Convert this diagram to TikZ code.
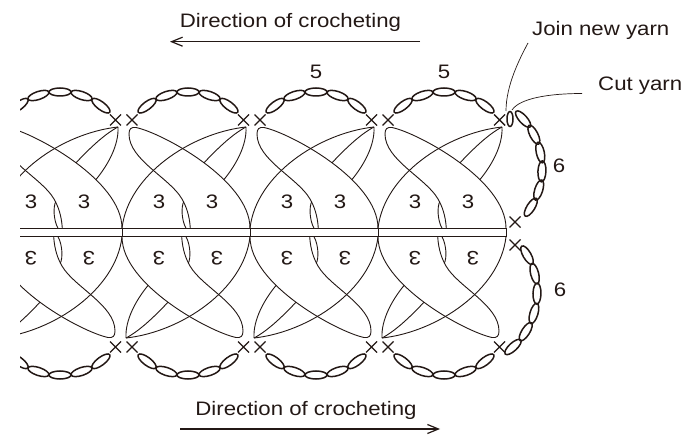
\documentclass[tikz,border=0pt]{standalone}
\usepackage{fontspec}
\setmainfont{Liberation Sans}[FakeStretch=1.14]
\usetikzlibrary{arrows.meta}
\definecolor{ink}{RGB}{35,24,21}
\tikzset{
 curve/.style={draw=ink, line width=0.9pt},
 chainlink/.style={draw=ink, line width=1.5pt},
 xmark/.style={draw=ink, line width=1.4pt},
 bandline/.style={draw=ink, line width=1.3pt},
 leader/.style={draw=ink, line width=0.7pt},
 lbl/.style={text=ink, font=\fontsize{19.5}{20}\selectfont, inner sep=0pt},
 dirarrow/.style={draw=ink, line width=1.2pt, -{Straight Barb[length=11pt,width=9pt]}},
}
\newcommand\xmk[2]{\draw[xmark] (#1-5.5,#2-5.5) -- (#1+5.5,#2+5.5) (#1-5.5,#2+5.5) -- (#1+5.5,#2-5.5);}
\newcommand\halfmotif[1]{%
 \draw[curve] (#1+60,127) .. controls (#1+45,135) and (#1+30,150) .. (#1+14,167);
 \draw[curve] (#1+60,127) .. controls (#1+61,145) and (#1+50,166) .. (#1+35,183);
 \filldraw[curve,fill=white] (#1+4.3,228.3) .. controls (#1+3.5,215) and (#1,206) .. (#1-4,199)
   .. controls (#1-16,178) and (#1-57,160) .. (#1-57,134)
   .. controls (#1-57,129) and (#1-55,126.8) .. (#1-50,127.5)
   .. controls (#1-24,133) and (#1+64,180) .. (#1+64,228.3);
 \draw[curve] (#1-2.2,201.5) .. controls (#1-5,207) and (#1-4.5,220) .. (#1,228.3);
 \draw[curve] (#1+60,127) .. controls (#1+5,133) and (#1-58,175) .. (#1-64,228.3);
}
% #1 centre x, #2 centre y, #3 radius, #4 angle list, #5 half length of a link
\newcommand\chainring[5]{%
 \foreach \a in {#4}{%
  \pgfmathsetmacro\ex{#1+#3*cos(\a)}%
  \pgfmathsetmacro\ey{#2+#3*sin(\a)}%
  \pgfmathsetmacro\rot{90-(\a)}%
  \draw[chainlink, rotate around={\rot:(\ex,\ey)}] (\ex,\ey) ellipse [x radius=#5, y radius=4];}%
}
\begin{document}
\begin{tikzpicture}[x=1pt,y=-1pt]
\useasboundingbox (0,0) rectangle (685,435);
\begin{scope}
 \clip (20,0) rectangle (685,435);
 \foreach \c in {58,186,314,442}{
   \halfmotif{\c}
   \begin{scope}[rotate around={180:(\c,232.5)}]\halfmotif{\c}\end{scope}
   \chainring{\c+2}{160}{68}{-127,-108.5,-90,-71.5,-53}{11}
   \chainring{\c+2}{307}{68}{53,71.5,90,108.5,127}{11}
   \xmk{\c-54}{120} \xmk{\c+57.5}{120} \xmk{\c-54}{347} \xmk{\c+57.5}{347}
   \node[lbl] (ua\c) at (\c-27,202) {3};
   \node[lbl] (ub\c) at (\c+26,202) {3};
   \node[lbl, rotate=180] (la\c) at (\c-27,258) {3};
   \node[lbl, rotate=180] (lb\c) at (\c+31,258) {3};
 }
 \foreach \b in {-6,122,250,378,506} \draw[curve] (\b,228.3) -- (\b,236.7);
 \draw[bandline] (20,228.3) -- (506,228.3) (20,236.7) -- (506,236.7);
\end{scope}
% right-hand end
\chainring{468.5}{168.3}{73.5}{-42,-27.2,-12.4,2.4,17.2,32}{10.5}
\chainring{462.7}{292.3}{74.3}{-30,-14.5,1,16.5,32,47.4}{10.5}
\draw[chainlink] (510,119) ellipse [x radius=3, y radius=7.5];
\xmk{515}{222} \xmk{515}{245}
% labels
\node[lbl] (fiveA) at (316,72) {5};
\node[lbl] (fiveB) at (444,72) {5};
\node[lbl] (sixA) at (559,166) {6};
\node[lbl] (sixB) at (560,290) {6};
\node[lbl, anchor=base west] (join) at (532,36) {Join new yarn};
\node[lbl, anchor=base west] (cut) at (598,90.5) {Cut yarn};
\coordinate (joinfoot) at (528,43);
\coordinate (joinpt) at (506,111);
\coordinate (cutfoot) at (582,93.5);
\coordinate (cutpt) at (512,110);
\draw[leader] (joinfoot) .. controls (520,58) and (506,85) .. (joinpt);
\draw[leader] (cutfoot) .. controls (550,93.5) and (520,98) .. (cutpt);
% directions
\node[lbl, anchor=base] (topdir) at (290.5,27.3) {Direction of crocheting};
\coordinate (tA1) at (420,41.7);
\coordinate (tA2) at (170,41.7);
\draw[dirarrow] (tA1) -- (tA2);
\node[lbl, anchor=base] (botdir) at (306,415) {Direction of crocheting};
\coordinate (bA1) at (180,429);
\coordinate (bA2) at (440,429);
\draw[dirarrow] (bA1) -- (bA2);
\end{tikzpicture}
\end{document}
